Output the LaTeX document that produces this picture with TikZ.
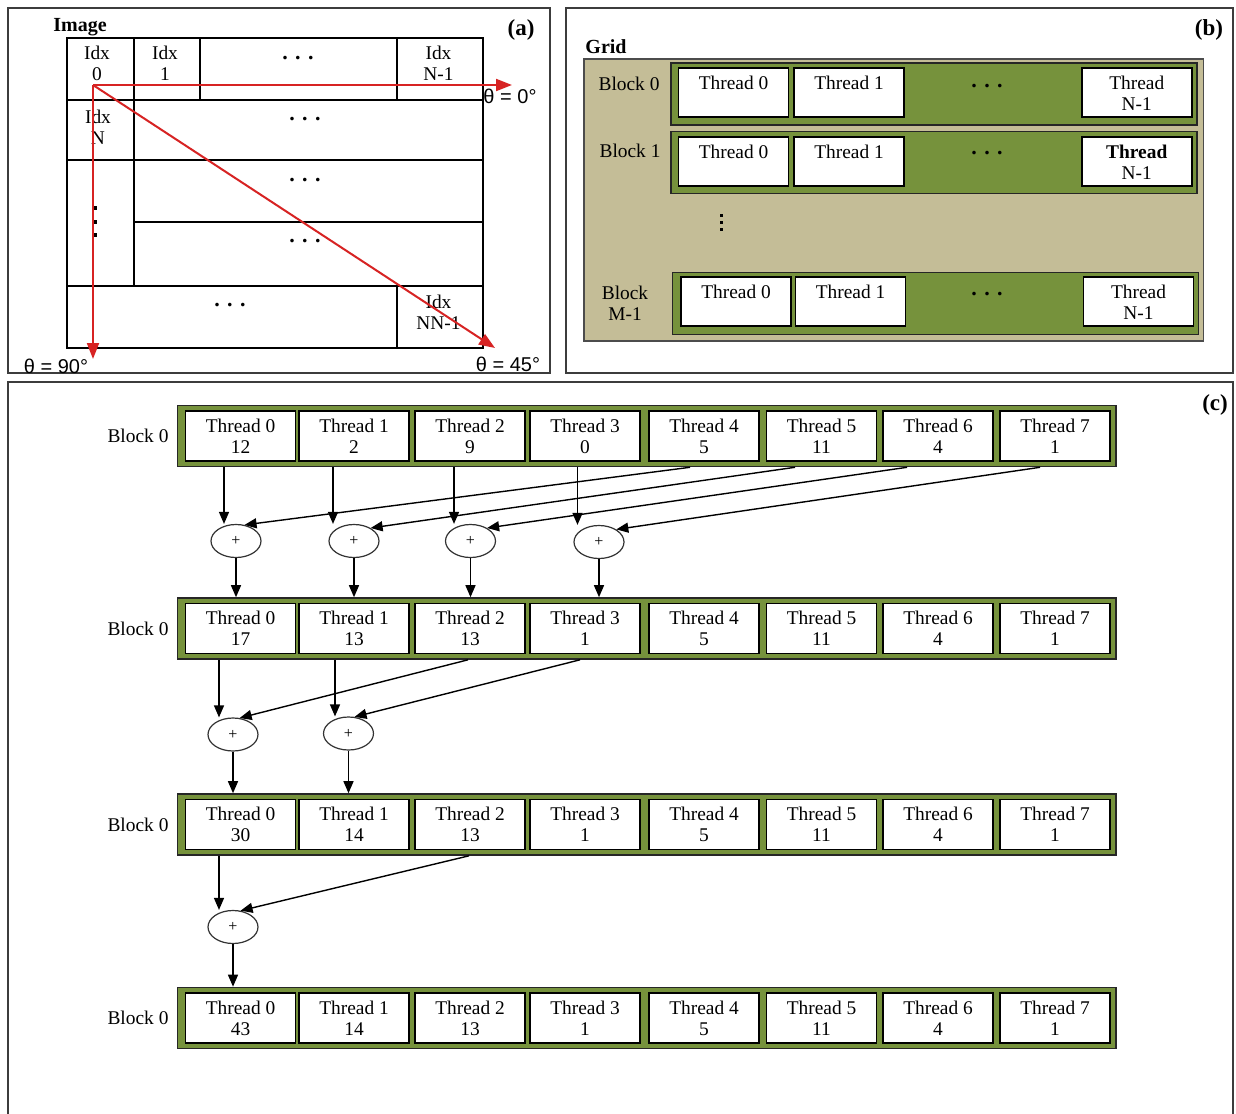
\documentclass[tikz,border=0pt]{standalone}
\usepackage{fontspec}
\setmainfont{Liberation Serif}
\newfontfamily\sansf{Liberation Sans}
\usetikzlibrary{arrows.meta,calc,shapes.geometric}
\definecolor{olivegr}{RGB}{118,146,60}
\definecolor{tanbg}{RGB}{196,189,151}
\definecolor{panelgray}{RGB}{60,60,60}
\definecolor{redarr}{RGB}{215,35,35}
\begin{document}
\begin{tikzpicture}[x=0.5pt,y=-0.5pt,
  every node/.style={font=\fontsize{9.7}{10.5}\selectfont, inner sep=0pt},
  panel/.style={draw=panelgray, line width=1.3pt},
  gridl/.style={draw=black, line width=0.6pt},
  cell/.style={align=center},
  redarrow/.style={draw=redarr, line width=1pt, -{Triangle[length=8pt,width=6pt]}},
  tanrect/.style={draw=black!70, fill=tanbg, line width=0.7pt},
  gbrow/.style={draw=black!85, fill=olivegr, line width=0.8pt, minimum width=263pt, minimum height=31pt},
  tbox/.style={draw=black, fill=white, line width=0.75pt, minimum width=55pt, minimum height=24.5pt},
  crow/.style={draw=black!85, fill=olivegr, line width=0.8pt, minimum width=469.25pt, minimum height=30.5pt},
  cbox/.style={draw=black, fill=white, line width=0.75pt, minimum width=55pt, minimum height=25pt, align=center},
  plus/.style={ellipse, draw=black!80, line width=0.6pt, minimum width=25pt, minimum height=16.5pt, font=\fontsize{8}{8}\selectfont},
  arr/.style={draw=black, line width=0.7pt, -{Triangle[length=6pt,width=5pt]}},
  ttl/.style={font=\bfseries\fontsize{10}{12}\selectfont},
  lbl/.style={font=\bfseries\fontsize{11.5}{12}\selectfont},
  dots/.style={font=\bfseries\fontsize{11}{12}\selectfont},
  theta/.style={font=\sansf\fontsize{10}{12}\selectfont},
]
\useasboundingbox (0,0) rectangle (1236,1113);
\fill[white] (0,0) rectangle (1236,1113);

% ---------------- panel (a)
\draw[panel] (8,8) rectangle (550,373);
\node[ttl] (imgt) at (80,27) {Image};
\node[lbl] (la) at (521,30) {(a)};
\draw[gridl] (67,38) rectangle (483,348);
\draw[gridl] (67,100) -- (483,100);
\draw[gridl] (67,160) -- (483,160);
\draw[gridl] (134,222) -- (483,222);
\draw[gridl] (67,286) -- (483,286);
\draw[gridl] (134,38) -- (134,286);
\draw[gridl] (200,38) -- (200,100);
\draw[gridl] (397,38) -- (397,100);
\draw[gridl] (397,286) -- (397,348);
\node[cell] (i0) at (97,63) {Idx\\0};
\node[cell] (i1) at (165,63) {Idx\\1};
\node[dots] (da1) at (298,58) {. . .};
\node[cell] (in1) at (438.5,63) {Idx\\N-1};
\node[cell] (iN) at (98,127) {Idx\\N};
\node[dots] (da2) at (305,119) {. . .};
\node[dots] (da3) at (305,180) {. . .};
\node[dots] (da4) at (305,241) {. . .};
\node[dots] (da5) at (230,305) {. . .};
\node[cell] (inn) at (438.5,312) {Idx\\NN-1};
\fill (93,206) rectangle (97,210);
\fill (93,220) rectangle (97,224);
\fill (93,233) rectangle (97,237);
\coordinate (o) at (93,85);
\coordinate (e0) at (512,85);
\coordinate (e90) at (93,359);
\coordinate (e45) at (495,348);
\draw[redarrow] (o) -- (e0);
\draw[redarrow] (o) -- (e90);
\draw[redarrow] (o) -- (e45);
\node[theta] (th0) at (510,96) {θ = 0°};
\node[theta] (th90) at (56,366) {θ = 90°};
\node[theta] (th45) at (508,364) {θ = 45°};

% ---------------- panel (b)
\draw[panel] (566,8) rectangle (1233,373);
\node[lbl] (lb) at (1209,30) {(b)};
\node[ttl] (gridt) at (606,47) {Grid};
\node[tanrect, minimum width=309.75pt, minimum height=141pt] (tanr) at (893.75,200) {};
\node[gbrow] (g0) at (934,94) {};
\node[gbrow] (g1) at (934,162.5) {};
\node[gbrow] (g2) at (935.5,303.5) {};
\node[tbox] (b00) at (733.5,92.5) {};
\node[tbox] (b01) at (849,92.5) {};
\node[tbox] (b0n) at (1136.75,92.5) {};
\node[tbox] (b10) at (733.5,161.5) {};
\node[tbox] (b11) at (849,161.5) {};
\node[tbox] (b1n) at (1136.75,161.5) {};
\node[tbox] (b20) at (736,301.5) {};
\node[tbox] (b21) at (850.5,301.5) {};
\node[tbox] (b2n) at (1138.5,301.5) {};
\foreach \b/\n in {b00/0,b01/1,b10/0,b11/1,b20/0,b21/1}{
  \node (\b txt) at ($(\b.north)+(0,16)$) {Thread \n};
}
\node[dots] (db0) at (987,86) {. . .};
\node[dots] (db1) at (987,153) {. . .};
\node[dots] (db2) at (987,294) {. . .};
\node[cell] (b0ntxt) at ($(b0n.north)+(0,26)$) {Thread\\N-1};
\node[cell] (b1ntxt) at ($(b1n.north)+(0,26)$) {\textbf{Thread}\\N-1};
\node[cell] (b2ntxt) at ($(b2n.north)+(0,26)$) {Thread\\N-1};
\node (blk0) at (629,84) {Block 0};
\node (blk1) at (630,151) {Block 1};
\node[cell] (blkm) at (625,303) {Block\\M-1};
\fill (719.5,214) rectangle (722.5,217);
\fill (719.5,221) rectangle (722.5,224);
\fill (719.5,228) rectangle (722.5,231);

% ---------------- panel (c)
\draw[panel] (8,1125) -- (8,382) -- (1233,382) -- (1233,1125);
\node[lbl] (lc) at (1215,405) {(c)};
\foreach \r/\yy/\vals in {0/436/{12,2,9,0,5,11,4,1},1/628.5/{17,13,13,1,5,11,4,1},2/824.5/{30,14,13,1,5,11,4,1},3/1018/{43,14,13,1,5,11,4,1}} {
  \node[crow] (r\r) at (646.75,\yy) {};
  \node (bl\r) at (138,\yy) {Block 0};
  \foreach \v [count=\i from 0] in \vals {
    \pgfmathsetmacro\xx{{240.5,354,470,585,704,821.5,938,1055}[\i]}
    \node[cbox] (t\r\i) at (\xx,\yy) {Thread \i\\\v};
  }
}
\node[plus] (p00) at (236,541) {+};
\node[plus] (p01) at (354,541) {+};
\node[plus] (p02) at (470.5,541) {+};
\node[plus] (p03) at (599,542) {+};
\node[plus] (p10) at (233,734.5) {+};
\node[plus] (p11) at (348.5,733.5) {+};
\node[plus] (p20) at (233,927) {+};

% step 1
\draw[arr] ($(p00.north |- r0.south)+(-12,0)$) -- ($(p00.north)+(-12,0)$);
\draw[arr] ($(p01.north |- r0.south)+(-21,0)$) -- ($(p01.north)+(-21,0)$);
\draw[arr] ($(p02.north |- r0.south)+(-16.5,0)$) -- ($(p02.north)+(-16.5,0)$);
\draw[arr] ($(p03.north |- r0.south)+(-21.5,0)$) -- ($(p03.north)+(-21.5,0)$);
\draw[arr] ($(t04.south |- r0.south)+(-14,0)$) -- (p00.62);
\draw[arr] ($(t05.south |- r0.south)+(-26.5,0)$) -- (p01.38);
\draw[arr] ($(t06.south |- r0.south)+(-31,0)$) -- (p02.38);
\draw[arr] ($(t07.south |- r0.south)+(-15,0)$) -- (p03.36);
\foreach \p in {p00,p01,p02,p03}{\draw[arr] (\p.south) -- (\p.south |- r1.north);}

% step 2
\draw[arr] ($(p10.north |- r1.south)+(-14,0)$) -- ($(p10.north)+(-14,0)$);
\draw[arr] ($(p11.north |- r1.south)+(-13.5,0)$) -- ($(p11.north)+(-13.5,0)$);
\draw[arr] ($(t12.south |- r1.south)+(-2,0)$) -- (p10.68);
\draw[arr] ($(t13.south |- r1.south)+(-5,0)$) -- (p11.70);
\foreach \p in {p10,p11}{\draw[arr] (\p.south) -- (\p.south |- r2.north);}

% step 3
\draw[arr] ($(p20.north |- r2.south)+(-14,0)$) -- ($(p20.north)+(-14,0)$);
\draw[arr] ($(t22.south |- r2.south)+(-1,0)$) -- (p20.65);
\draw[arr] (p20.south) -- (p20.south |- r3.north);
\end{tikzpicture}
\end{document}
